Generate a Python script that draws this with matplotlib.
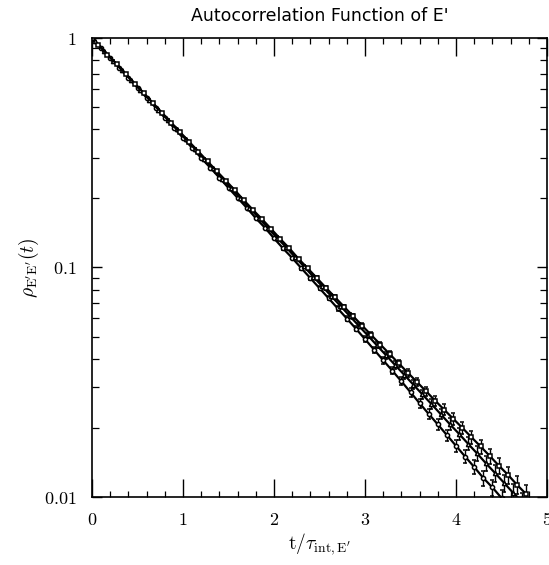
import numpy as np
import matplotlib
matplotlib.use('Agg')
import matplotlib.pyplot as plt
from matplotlib.ticker import FixedLocator, FixedFormatter, MultipleLocator, LogLocator, NullFormatter

plt.rcParams['mathtext.fontset'] = 'cm'

# Datos: rho(t) para tres conjuntos de datos
t_a = [0.0, 0.1, 0.2, 0.3, 0.4, 0.5, 0.6, 0.7, 0.8, 0.9,
       1.0, 1.1, 1.2, 1.3, 1.4, 1.5, 1.6, 1.7, 1.8, 1.9,
       2.0, 2.1, 2.2, 2.3, 2.4, 2.5, 2.6, 2.7, 2.8, 2.9,
       3.0, 3.1, 3.2, 3.3, 3.4, 3.5, 3.6, 3.7, 3.8, 3.9,
       4.0, 4.1, 4.2, 4.3, 4.4, 4.5, 4.6]
rho_a = [1.000, 0.905, 0.819, 0.741, 0.670, 0.607, 0.549, 0.497, 0.449, 0.406,
         0.367, 0.332, 0.300, 0.272, 0.246, 0.222, 0.201, 0.182, 0.164, 0.149,
         0.134, 0.121, 0.110, 0.0993, 0.0898, 0.0812, 0.0734, 0.0663, 0.0599, 0.0541,
         0.0487, 0.0438, 0.0394, 0.0355, 0.0319, 0.0286, 0.0256, 0.0230, 0.0207, 0.0186,
         0.0167, 0.0150, 0.0135, 0.0121, 0.0110, 0.0099, 0.0090]

t_b = [0.03, 0.13, 0.23, 0.33, 0.43, 0.53, 0.63, 0.73, 0.83, 0.93,
       1.03, 1.13, 1.23, 1.33, 1.43, 1.53, 1.63, 1.73, 1.83, 1.93,
       2.03, 2.13, 2.23, 2.33, 2.43, 2.53, 2.63, 2.73, 2.83, 2.93,
       3.03, 3.13, 3.23, 3.33, 3.43, 3.53, 3.63, 3.73, 3.83, 3.93,
       4.03, 4.13, 4.23, 4.33, 4.43, 4.53, 4.63, 4.73]
rho_b = [0.971, 0.880, 0.797, 0.723, 0.655, 0.593, 0.538, 0.487, 0.441, 0.400,
         0.362, 0.329, 0.298, 0.270, 0.244, 0.221, 0.201, 0.182, 0.165, 0.149,
         0.135, 0.123, 0.111, 0.101, 0.0913, 0.0828, 0.0750, 0.0680, 0.0616, 0.0558,
         0.0506, 0.0458, 0.0415, 0.0376, 0.0341, 0.0309, 0.0280, 0.0254, 0.0230, 0.0208,
         0.0189, 0.0171, 0.0155, 0.0140, 0.0127, 0.0115, 0.0104, 0.0095]

t_c = [0.07, 0.17, 0.27, 0.37, 0.47, 0.57, 0.67, 0.77, 0.87, 0.97,
       1.07, 1.17, 1.27, 1.37, 1.47, 1.57, 1.67, 1.77, 1.87, 1.97,
       2.07, 2.17, 2.27, 2.37, 2.47, 2.57, 2.67, 2.77, 2.87, 2.97,
       3.07, 3.17, 3.27, 3.37, 3.47, 3.57, 3.67, 3.77, 3.87, 3.97,
       4.07, 4.17, 4.27, 4.37, 4.47, 4.57, 4.67, 4.77]
rho_c = [0.934, 0.847, 0.769, 0.697, 0.632, 0.574, 0.520, 0.472, 0.428, 0.388,
         0.352, 0.320, 0.290, 0.263, 0.239, 0.217, 0.196, 0.178, 0.162, 0.147,
         0.133, 0.121, 0.109, 0.0992, 0.0900, 0.0816, 0.0742, 0.0674, 0.0613, 0.0557,
         0.0507, 0.0461, 0.0420, 0.0382, 0.0348, 0.0317, 0.0289, 0.0263, 0.0240, 0.0219,
         0.0200, 0.0182, 0.0166, 0.0151, 0.0137, 0.0125, 0.0113, 0.0103]

# Error relativo (aprox.) por punto, crece con t
rel_err = [0.0, 0.001, 0.001, 0.002, 0.002, 0.002, 0.003, 0.003, 0.003, 0.004,
           0.004, 0.005, 0.005, 0.006, 0.006, 0.007, 0.008, 0.008, 0.009, 0.010,
           0.011, 0.012, 0.013, 0.015, 0.016, 0.018, 0.020, 0.022, 0.024, 0.026,
           0.029, 0.031, 0.034, 0.037, 0.040, 0.043, 0.047, 0.050, 0.054, 0.058,
           0.062, 0.066, 0.071, 0.076, 0.081, 0.086, 0.092, 0.098]

x_ticks = [0, 1, 2, 3, 4, 5]
y_ticks = [0.01, 0.1, 1]
y_labels = ['$0.01$', '$0.1$', '$1$']

fig = plt.figure(figsize=(5.49, 5.65), dpi=100)
ax = fig.add_axes([0.1676, 0.1204, 0.8288, 0.8124])

series = [(t_a, rho_a, 'o'), (t_b, rho_b, '^'), (t_c, rho_c, 's')]
for t, rho, mk in series:
    t = np.array(t)
    rho = np.array(rho)
    err = rho * np.array(rel_err[:len(rho)])
    ax.errorbar(t, rho, yerr=err, fmt=mk + '-', lw=1.6, ms=3.0, mfc='white',
                mec='black', mew=1.1, ecolor='black', elinewidth=1.0,
                capsize=1.6, color='black', clip_on=True)

ax.set_yscale('log')
ax.set_xlim(0, 5)
ax.set_ylim(0.01, 1)

ax.xaxis.set_major_locator(FixedLocator(x_ticks))
ax.xaxis.set_minor_locator(MultipleLocator(0.2))
ax.set_xticklabels(['$%d$' % v for v in x_ticks])
ax.yaxis.set_major_locator(FixedLocator(y_ticks))
ax.yaxis.set_major_formatter(FixedFormatter(y_labels))
ax.yaxis.set_minor_locator(LogLocator(base=10, subs=np.arange(2, 10)))
ax.yaxis.set_minor_formatter(NullFormatter())

ax.tick_params(axis='both', which='both', direction='in', top=True, right=True,
               labelsize=13, color='black')
ax.tick_params(axis='x', which='major', length=13, width=1.0, pad=10)
ax.tick_params(axis='x', which='minor', length=4, width=0.9)
ax.tick_params(axis='y', which='major', length=7, width=1.0, pad=11)
ax.tick_params(axis='y', which='minor', length=5, width=0.9)
for s in ax.spines.values():
    s.set_linewidth(1.2)

ax.set_title("Autocorrelation Function of E'", fontsize=12.5,
             family='DejaVu Sans', pad=12)
ax.set_xlabel(r"$\mathrm{t}/\tau_{\mathrm{int,E'}}$", fontsize=14, labelpad=2)
ax.set_ylabel(r"$\rho_{\mathrm{E'E'}}(t)$", fontsize=14, labelpad=2)

fig.savefig('out.png', dpi=100)
